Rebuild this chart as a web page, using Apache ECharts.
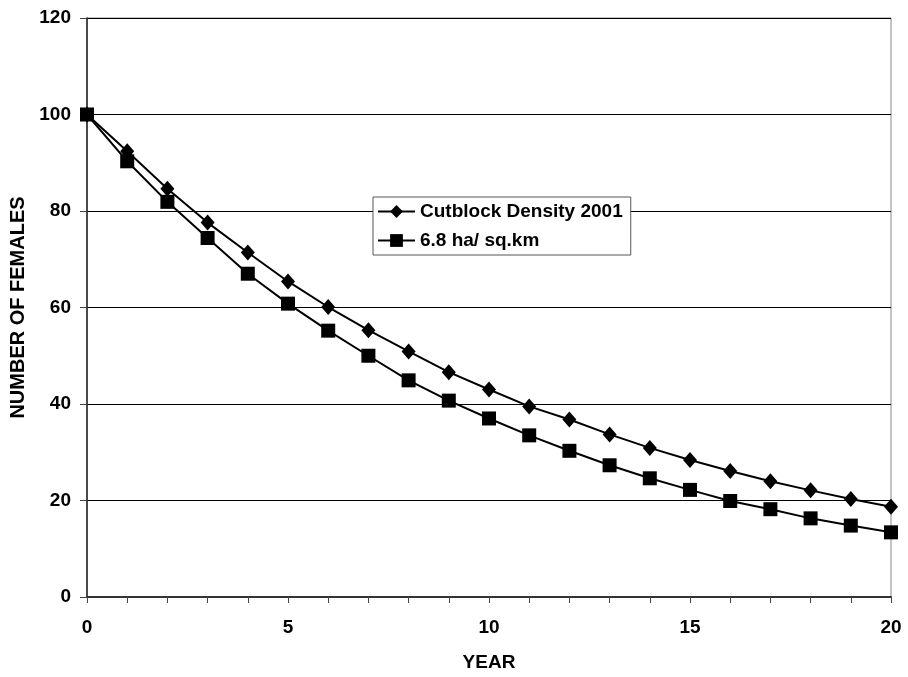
<!DOCTYPE html>
<html>
<head>
<meta charset="utf-8">
<script src="https://cdn.jsdelivr.net/npm/echarts@6/dist/echarts.min.js"></script>
<style>
html,body{margin:0;padding:0;background:#fff;}
#chart{width:908px;height:677px;}
</style>
</head>
<body>
<div id="chart"></div>
<script>
const years = [0,1,2,3,4,5,6,7,8,9,10,11,12,13,14,15,16,17,18,19,20];
const cutblock2001 = [100,92.4,84.6,77.6,71.4,65.4,60.1,55.3,50.9,46.6,43.0,39.5,36.8,33.7,30.9,28.4,26.1,24.0,22.1,20.3,18.7];
const density68 = [100,90.3,81.9,74.4,67.0,60.8,55.2,50.0,44.9,40.7,37.0,33.5,30.3,27.3,24.6,22.2,19.9,18.2,16.3,14.8,13.4];
const seriesNames = ['Cutblock Density 2001','6.8 ha/ sq.km'];
const xTitle = 'YEAR';
const yTitle = 'NUMBER OF FEMALES';

const font = 'Liberation Sans, Arial, sans-serif';
const chart = echarts.init(document.getElementById('chart'));
chart.setOption({
  animation:false,
  backgroundColor:'#fff',
  grid:{left:87,right:17,top:18,bottom:80,show:true,borderColor:'#888',borderWidth:1,backgroundColor:'transparent'},
  legend:{
    orient:'vertical',left:373,top:197,
    backgroundColor:'#fff',borderColor:'#555',borderWidth:1,
    padding:[5,8,5,4],itemGap:10,itemWidth:37,itemHeight:16,
    textStyle:{fontFamily:font,fontWeight:'bold',fontSize:19,color:'#000'},
    data:seriesNames
  },
  xAxis:{
    type:'value',min:0,max:20,interval:1,
    name:xTitle,nameLocation:'middle',nameGap:56,
    nameTextStyle:{fontFamily:font,fontWeight:'bold',fontSize:19,color:'#000'},
    axisLine:{lineStyle:{color:'#333',width:2}},
    axisTick:{show:true,length:6,lineStyle:{color:'#444'}},
    axisLabel:{fontFamily:font,fontWeight:'bold',fontSize:19,color:'#000',margin:21,
      formatter:v=> (v%5===0? String(v):'')},
    splitLine:{show:false}
  },
  yAxis:{
    type:'value',min:0,max:120,interval:20,
    name:yTitle,nameLocation:'middle',nameGap:58,nameRotate:90,
    nameTextStyle:{fontFamily:font,fontWeight:'bold',fontSize:20,color:'#000'},
    axisLine:{show:true,lineStyle:{color:'#222',width:1.5}},
    axisTick:{show:true,length:7,lineStyle:{color:'#444'}},
    axisLabel:{fontFamily:font,fontWeight:'bold',fontSize:19,color:'#000',margin:16},
    splitLine:{show:true,lineStyle:{color:'#000',width:1}}
  },
  series:[
    {name:seriesNames[0],type:'line',data:years.map((x,i)=>[x,cutblock2001[i]]),
     symbol:'diamond',symbolSize:[14,16],
     lineStyle:{color:'#000',width:2},itemStyle:{color:'#000'}},
    {name:seriesNames[1],type:'line',data:years.map((x,i)=>[x,density68[i]]),
     symbol:'rect',symbolSize:14,
     lineStyle:{color:'#000',width:2},itemStyle:{color:'#000'}}
  ]
});
</script>
</body>
</html>
